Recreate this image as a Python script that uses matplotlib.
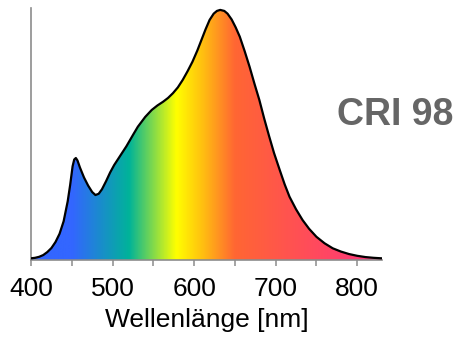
import numpy as np
import matplotlib
matplotlib.use("Agg")
import matplotlib.pyplot as plt
from matplotlib.colors import LinearSegmentedColormap
from matplotlib.patches import Polygon

plt.rcParams['font.family'] = ['Liberation Sans', 'DejaVu Sans']

# spectrum (normalised to peak)
wavelength = [400, 405, 410, 415, 420, 425, 430, 435, 440, 445, 448, 451, 453, 455,
              457, 460, 465, 470, 475, 479, 483, 487, 492, 497, 502, 510, 517, 525,
              531, 540, 548, 555, 562, 568, 574, 580, 586, 592, 598, 604, 609, 614,
              619, 624, 628, 632, 637, 641, 646, 651, 656, 662, 668, 674, 680, 686,
              692, 698, 705, 711, 717, 725, 733, 741, 750, 760, 770, 780, 790, 800,
              810, 820, 830]
intensity = [0.007, 0.009, 0.013, 0.020, 0.032, 0.048, 0.072, 0.105, 0.155, 0.235,
             0.300, 0.375, 0.402, 0.408, 0.398, 0.370, 0.330, 0.298, 0.272, 0.260,
             0.265, 0.283, 0.315, 0.350, 0.380, 0.420, 0.455, 0.500, 0.533, 0.572,
             0.600, 0.618, 0.633, 0.648, 0.667, 0.690, 0.720, 0.755, 0.793, 0.838,
             0.880, 0.922, 0.960, 0.985, 0.996, 1.000, 0.996, 0.985, 0.962, 0.930,
             0.893, 0.835, 0.773, 0.705, 0.640, 0.565, 0.495, 0.428, 0.360, 0.303,
             0.253, 0.203, 0.160, 0.125, 0.093, 0.067, 0.047, 0.034, 0.024, 0.017,
             0.012, 0.009, 0.007]

xticks = [400, 500, 600, 700, 800]
label_text = "CRI 98"

# colour stops for the rainbow fill (wavelength, colour)
grad_nm = [400, 450, 520, 578, 610, 650, 830]
grad_col = ["#3366ff", "#3366ff", "#00b399", "#ffff00", "#ffc010", "#ff6633", "#ff3380"]

fig = plt.figure(figsize=(4.56, 3.44), dpi=100)
ax = fig.add_axes([0.068, 0.244, 0.769, 0.733])

x0, x1 = 400, 830
y0, y1 = 0, 1.008
pos = [(v - x0) / (x1 - x0) for v in grad_nm]
cmap = LinearSegmentedColormap.from_list("spec", list(zip(pos, grad_col)))

grad = np.linspace(0, 1, 512).reshape(1, -1)
im = ax.imshow(grad, cmap=cmap, aspect="auto", extent=[x0, x1, y0, y1],
               origin="lower", zorder=1)
verts = [(wavelength[0], 0)] + list(zip(wavelength, intensity)) + [(wavelength[-1], 0)]
poly = Polygon(verts, closed=True, facecolor="none", edgecolor="none")
ax.add_patch(poly)
im.set_clip_path(poly)

ax.plot(wavelength, intensity, color="black", lw=1.6, zorder=3)

ax.set_xlim(x0, x1)
ax.set_ylim(y0, y1)
ax.set_xticks(xticks)
ax.set_xticks([450, 550, 650, 750], minor=True)
ax.set_yticks([])
for s in ["top", "right"]:
    ax.spines[s].set_visible(False)
for s in ["left", "bottom"]:
    ax.spines[s].set_color("#8c8c8c")
    ax.spines[s].set_linewidth(1.2)
ax.tick_params(axis="x", which="both", direction="out", length=4.5, width=1.1,
               color="#8c8c8c", labelsize=19, pad=8)
ax.set_xlabel("Wellenlänge [nm]", fontsize=19, labelpad=5)

fig.text(0.995, 0.637, label_text, fontsize=27, fontweight="bold", color="#666666",
         ha="right", va="baseline")

fig.savefig("out.png", dpi=100)
